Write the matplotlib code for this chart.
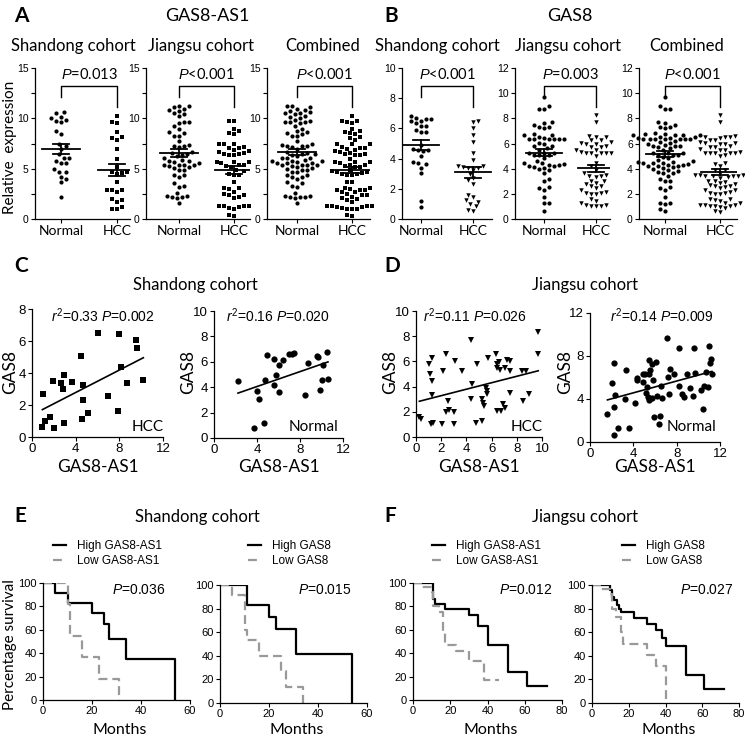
import numpy as np
import matplotlib
matplotlib.use('Agg')
import matplotlib.pyplot as plt

W, H = 745, 736
plt.rcParams['mathtext.fontset'] = 'custom'
plt.rcParams['mathtext.it'] = 'Liberation Sans:italic'
plt.rcParams['mathtext.rm'] = 'Liberation Sans'
plt.rcParams['mathtext.bf'] = 'Liberation Sans:bold'
CAL = 'Lato'
ARI = 'Liberation Sans'

# ---------------- data ----------------
# Shandong cohort, HCC tissue (GAS8-AS1 / GAS8 pairs)
shandong_hcc_as1 = [0.95, 1.04, 1.19, 1.65, 1.89, 2.0, 2.66, 2.84, 2.93, 2.9, 3.7, 4.46, 4.58,
                    4.64, 4.70, 5.16, 6.0, 7.0, 7.88, 8.0, 8.15, 8.67, 9.53, 9.59, 10.2]
shandong_hcc_gas8 = [0.6, 2.69, 0.98, 1.25, 3.48, 0.54, 3.38, 2.98, 3.88, 0.85, 3.46, 5.08, 1.15,
                     3.27, 2.33, 1.48, 6.48, 2.58, 1.6, 6.42, 4.35, 3.4, 6.04, 5.54, 3.54]
# Shandong cohort, normal tissue
shandong_normal_as1 = [2.23, 4.0, 4.22, 3.69, 4.62, 4.71, 4.93, 5.61, 5.58, 5.8, 6.05, 6.05, 6.42,
                       6.98, 7.22, 7.44, 8.47, 8.78, 9.61, 9.7, 9.83, 10.0, 10.14, 10.5, 10.6]
shandong_normal_gas8 = [4.49, 3.70, 3.04, 0.79, 1.18, 4.54, 6.51, 6.19, 4.20, 4.93, 5.77, 3.65, 6.14,
                        6.64, 6.64, 6.72, 3.41, 5.9, 6.46, 6.38, 3.78, 4.54, 5.75, 6.8, 4.65]
# Jiangsu cohort, HCC tissue
jiangsu_hcc_as1 = [0.27, 0.4, 1.03, 1.14, 1.3, 1.3, 1.25, 1.33, 1.2, 2.07, 2.18, 2.36, 2.36, 2.52,
                   2.65, 3.05, 3.1, 3.0, 3.63, 4.38, 4.48, 4.4, 4.77, 4.85, 5.2, 5.33, 5.38, 5.25,
                   5.57, 5.68, 5.62, 5.62, 6.31, 6.39, 6.45, 6.55, 6.66, 6.42, 6.74, 6.87, 7.06,
                   7.08, 7.19, 7.43, 7.45, 7.48, 8.4, 8.51, 8.75, 8.97, 9.7, 9.7]
jiangsu_hcc_gas8 = [1.58, 1.45, 5.76, 5.0, 6.29, 4.42, 3.34, 1.1, 1.05, 1.03, 5.24, 6.55, 2.0, 2.87,
                    2.16, 2.0, 6.03, 1.05, 5.26, 7.68, 4.24, 3.05, 1.1, 5.76, 3.03, 2.66, 2.45, 1.24,
                    3.92, 6.24, 3.68, 3.42, 6.55, 5.45, 5.79, 5.95, 5.29, 2.03, 2.08, 2.6, 2.34,
                    5.5, 6.1, 5.24, 6.0, 3.5, 5.26, 2.82, 5.26, 3.42, 8.3, 6.6]
# Jiangsu cohort, normal tissue
jiangsu_normal_as1 = [1.61, 2.07, 2.23, 2.23, 2.26, 2.29, 2.6, 3.22, 3.31, 3.59, 4.18, 4.33, 4.36,
                      4.86, 4.89, 5.1, 5.23, 5.17, 5.32, 5.41, 5.41, 5.41, 5.54, 5.69, 5.75, 5.78,
                      5.88, 6.06, 6.22, 6.4, 6.43, 6.53, 6.65, 7.11, 7.21, 7.36, 7.3, 7.76, 8.26,
                      8.26, 8.51, 8.66, 8.97, 9.22, 9.5, 9.62, 9.65, 10.2, 10.42, 10.55, 10.7,
                      10.85, 10.95, 11.1, 11.2, 11.25]
jiangsu_normal_gas8 = [2.56, 5.52, 7.33, 3.21, 0.62, 4.36, 1.31, 3.99, 6.67, 1.31, 3.65, 5.99, 5.77,
                       6.33, 5.61, 6.33, 5.08, 4.58, 4.21, 6.33, 7.64, 3.9, 6.70, 7.23, 4.11, 5.77,
                       2.28, 7.45, 4.30, 1.71, 2.46, 5.24, 4.05, 9.66, 6.02, 6.76, 4.43, 6.33, 8.73,
                       5.21, 4.43, 4.21, 6.33, 5.05, 4.30, 8.73, 6.45, 4.83, 3.05, 5.21, 6.55, 5.08,
                       8.95, 7.33, 7.7, 6.33]

groups = ['Normal', 'HCC']
dot_p_as1 = ['$P$=0.013', '$P$<0.001', '$P$<0.001']
dot_p_gas8 = ['$P$<0.001', '$P$=0.003', '$P$<0.001']
corr_text = [r'$r^{\mathrm{2}}$=0.33 $P$=0.002', r'$r^{\mathrm{2}}$=0.16 $P$=0.020',
             r'$r^{\mathrm{2}}$=0.11 $P$=0.026', r'$r^{\mathrm{2}}$=0.14 $P$=0.009']

# Kaplan-Meier curves (months, % survival)
e_high_as1_t = [0, 5, 10, 20, 25, 27, 34, 54]
e_high_as1_s = [100, 91.7, 83.3, 74, 65, 52, 35, 0]
e_low_as1_t = [0, 10, 11, 16, 23, 31]
e_low_as1_s = [100, 82, 55, 37, 18, 0]
e_high_gas8_t = [0, 11, 20, 23, 31, 54]
e_high_gas8_s = [100, 83.3, 72.7, 62.5, 41.7, 0]
e_low_gas8_t = [0, 5, 10, 11, 16, 25, 27, 34]
e_low_gas8_s = [100, 91.7, 61.5, 53.8, 40, 26.9, 13.5, 0]
f_high_as1_t = [0, 10.5, 11, 12, 17, 30, 35, 40, 51, 61, 72]
f_high_as1_s = [100, 93, 86, 82, 78, 73, 63, 47, 24, 12, 12]
f_low_as1_t = [0, 5, 10, 11, 14, 16, 17, 23, 30, 38, 46]
f_low_as1_s = [100, 97, 92, 80, 75, 58, 47, 42, 33, 17, 17]
f_high_gas8_t = [0, 10, 11, 12, 13.5, 14.5, 16, 23, 30, 35, 38, 40, 51, 61, 72]
f_high_gas8_s = [100, 96, 90, 87, 83, 80, 77, 72, 67, 61.5, 55, 48.6, 24, 12, 12]
f_low_gas8_t = [0, 5, 10, 11, 13, 16, 17, 30, 35, 40]
f_low_gas8_s = [100, 97, 92, 80, 73, 60, 50, 41, 31, 0]
surv_p = ['$P$=0.036', '$P$=0.015', '$P$=0.012', '$P$=0.027']

# ---------------- figure ----------------
fig = plt.figure(figsize=(W / 100, H / 100), dpi=100)


def add_ax(l, t, r, b):
    ax = fig.add_axes([l / W, 1 - b / H, (r - l) / W, (b - t) / H])
    for s in ('top', 'right'):
        ax.spines[s].set_visible(False)
    for s in ('left', 'bottom'):
        ax.spines[s].set_linewidth(0.9)
    ax.tick_params(direction='out', length=3, width=0.8, pad=1.5)
    return ax


def ftext(x, y, s, **kw):
    fig.text(x / W, 1 - y / H, s, **kw)


def swarm(ypix, d):
    xs = np.zeros(len(ypix))
    placed = []
    for n, i in enumerate(np.argsort(ypix)):
        y = ypix[i]
        k = 0
        while True:
            cands = [0.0] if k == 0 else [k * d * 0.5, -k * d * 0.5]
            if n % 2:
                cands = cands[::-1]
            hit = None
            for c in cands:
                if all((c - px) ** 2 + (y - py) ** 2 >= d * d for px, py in placed):
                    hit = c
                    break
            if hit is not None:
                break
            k += 1
        xs[i] = hit
        placed.append((hit, y))
    return xs


def dot_plot(spec, normal, hcc, ymax, yticks, minor, hmk, ptxt):
    l, xn, xh, r = spec
    t, b = 68, 219
    ppu = xh - xn
    ax = add_ax(l, t, r, b)
    ax.set_xlim(-(xn - l) / ppu, 1 + (r - xh) / ppu)
    ax.set_ylim(0, ymax)
    ypx = (b - t) / ymax
    for i, (vals, mk, ms) in enumerate([(normal, 'o', 3.0), (hcc, hmk, 3.2 if hmk == 'v' else 2.8)]):
        vals = np.asarray(vals, float)
        off = swarm(vals * ypx, 5.0)
        ax.plot(i + off / ppu, vals, mk, ls='none', color='black', ms=ms, mew=0, clip_on=False)
        m = vals.mean()
        se = vals.std(ddof=1) / np.sqrt(len(vals))
        ax.plot([i - 0.34, i + 0.34], [m, m], color='k', lw=1.3)
        for v in (m - se, m + se):
            ax.plot([i - 0.15, i + 0.15], [v, v], color='k', lw=1.3)
        ax.plot([i, i], [m - se, m + se], color='k', lw=1.3)
    ax.plot([0, 0, 1, 1], [0.81 * ymax, 0.88 * ymax, 0.88 * ymax, 0.74 * ymax], color='k', lw=1.0)
    ax.text(0.5, 0.955 * ymax, ptxt, ha='center', va='center', fontsize=10.5, family=CAL)
    ax.set_xticks([0, 1])
    ax.set_xticklabels(groups, fontsize=10, family=CAL)
    ax.set_yticks(yticks)
    ax.set_yticklabels([str(v) for v in yticks], fontsize=7.5, family=ARI)
    if minor:
        ax.set_yticks(minor, minor=True)
        ax.tick_params(axis='y', which='minor', length=3, width=0.8)
    return ax


shandong_combined_normal = shandong_normal_as1 + jiangsu_normal_as1
combined_hcc = shandong_hcc_as1 + jiangsu_hcc_as1
combined_normal_g = shandong_normal_gas8 + jiangsu_normal_gas8
combined_hcc_g = shandong_hcc_gas8 + jiangsu_hcc_gas8

a_specs = [(35, 61, 117, 130), (146, 179, 234, 250), (267, 297, 352, 370)]
b_specs = [(402, 421, 473, 492), (515, 544, 596, 610), (639, 665, 720, 737)]
a_data = [(shandong_normal_as1, shandong_hcc_as1), (jiangsu_normal_as1, jiangsu_hcc_as1),
          (shandong_combined_normal, combined_hcc)]
b_data = [(shandong_normal_gas8, shandong_hcc_gas8), (jiangsu_normal_gas8, jiangsu_hcc_gas8),
          (combined_normal_g, combined_hcc_g)]
for k in range(3):
    dot_plot(a_specs[k], *a_data[k], 15, [0, 5, 10, 15], [2.5, 7.5, 12.5], 's', dot_p_as1[k])
dot_plot(b_specs[0], *b_data[0], 10, [0, 2, 4, 6, 8, 10], None, 'v', dot_p_gas8[0])
dot_plot(b_specs[1], *b_data[1], 12, [0, 2, 4, 6, 8, 10, 12], None, 'v', dot_p_gas8[1])
dot_plot(b_specs[2], *b_data[2], 12, [0, 2, 4, 6, 8, 10, 12], None, 'v', dot_p_gas8[2])

# titles / labels row A-B
ftext(14, 16, 'A', fontsize=15, weight='bold', family=CAL, va='center', ha='left')
ftext(384, 16, 'B', fontsize=15, weight='bold', family=CAL, va='center', ha='left')
ftext(207, 16, 'GAS8-AS1', fontsize=13, family=CAL, ha='center', va='center')
ftext(570, 16, 'GAS8', fontsize=13, family=CAL, ha='center', va='center')
for x, s in [(73, 'Shandong cohort'), (201, 'Jiangsu cohort'), (323, 'Combined'),
             (437, 'Shandong cohort'), (568, 'Jiangsu cohort'), (687, 'Combined')]:
    ftext(x, 46, s, fontsize=12, family=CAL, ha='center', va='center')
ftext(10, 147, 'Relative  expression', fontsize=11, family=CAL, ha='center', va='center', rotation=90)


# ---------------- C / D scatter ----------------
def scatter_panel(box, x, y, mk, ms, xlim, xticks, ylim, yticks, txt, lab, lab_xy, ylab_x, txt_x):
    ax = add_ax(*box)
    x = np.asarray(x, float)
    y = np.asarray(y, float)
    ax.plot(x, y, mk, ls='none', color='k', ms=ms, mew=0, clip_on=False)
    k, c = np.polyfit(x, y, 1)
    xx = np.array([x.min(), x.max()])
    ax.plot(xx, k * xx + c, color='k', lw=1.2)
    ax.set_xlim(*xlim)
    ax.set_ylim(*ylim)
    ax.set_xticks(xticks)
    ax.set_xticklabels([str(v) for v in xticks], fontsize=9.5, family=ARI)
    ax.set_yticks(yticks)
    ax.set_yticklabels([str(v) for v in yticks], fontsize=9.5, family=ARI)
    ftext(txt_x, 316, txt, fontsize=10, family=ARI, ha='center', va='center')
    ftext(lab_xy[0], lab_xy[1], lab, fontsize=11, family=CAL, ha='center', va='center')
    ftext(ylab_x, 372, 'GAS8', fontsize=12.5, family=CAL, ha='center', va='center', rotation=90)
    ftext((box[0] + box[2]) / 2, 467, 'GAS8-AS1', fontsize=12.5, family=CAL, ha='center', va='center')
    return ax


scatter_panel((32, 309, 163, 437), shandong_hcc_as1, shandong_hcc_gas8, 's', 4.2, (0, 12), [0, 4, 8, 12],
              (0, 8), [0, 2, 4, 6, 8], corr_text[0], 'HCC', (148, 427), 10, 103)
scatter_panel((214, 311, 343, 438), shandong_normal_as1, shandong_normal_gas8, 'o', 4.5, (0, 12),
              [0, 4, 8, 12], (0, 10), [0, 2, 4, 6, 8, 10], corr_text[1], 'Normal', (313, 427), 188, 278)
scatter_panel((416, 311, 542, 437), jiangsu_hcc_as1, jiangsu_hcc_gas8, 'v', 5.0, (0, 10),
              [0, 2, 4, 6, 8, 10], (0, 10), [0, 2, 4, 6, 8, 10], corr_text[2], 'HCC', (527, 427), 390, 475)
scatter_panel((590, 313, 720, 442), jiangsu_normal_as1, jiangsu_normal_gas8, 'o', 4.5, (0, 12),
              [0, 4, 8, 12], (0, 12), [0, 4, 8, 12], corr_text[3], 'Normal', (692, 427), 565, 662)

ftext(14, 266, 'C', fontsize=15, weight='bold', family=CAL, va='center', ha='left')
ftext(384, 266, 'D', fontsize=15, weight='bold', family=CAL, va='center', ha='left')
ftext(195, 285, 'Shandong cohort', fontsize=12, family=CAL, ha='center', va='center')
ftext(585, 285, 'Jiangsu cohort', fontsize=12, family=CAL, ha='center', va='center')


# ---------------- E / F survival ----------------
def surv_panel(box, xmax, xticks, hi, lo, labels, ptxt, p_x, leg_x):
    ax = add_ax(*box)
    l1, = ax.step(hi[0], hi[1], where='post', color='k', lw=1.6)
    l2, = ax.step(lo[0], lo[1], where='post', color='#999999', lw=1.6, dashes=(4, 2.2))
    ax.set_xlim(0, xmax)
    ax.set_ylim(0, 100)
    ax.set_xticks(xticks)
    ax.set_xticklabels([str(v) for v in xticks], fontsize=8, family=ARI)
    ax.set_yticks([0, 20, 40, 60, 80, 100])
    ax.set_yticklabels(['0', '20', '40', '60', '80', '100'], fontsize=8, family=ARI)
    ax.tick_params(axis='x', pad=1.0)
    ftext(p_x, 590, ptxt, fontsize=10, family=ARI, ha='center', va='center')
    ftext((box[0] + box[2]) / 2 + 3, 734, 'Months', fontsize=11.5, family=CAL, ha='center',
          va='baseline')
    fig.legend([l1, l2], labels, loc='center left', bbox_to_anchor=(leg_x / W, 1 - 553.5 / H),
               frameon=False, handlelength=1.1, handletextpad=0.9, labelspacing=0.25,
               borderpad=0, borderaxespad=0, prop={'family': ARI, 'size': 8.5})
    return ax


surv_panel((43, 583, 190, 700), 60, [0, 20, 40, 60], (e_high_as1_t, e_high_as1_s),
           (e_low_as1_t, e_low_as1_s), ['High GAS8-AS1', 'Low GAS8-AS1'], surv_p[0], 139, 53)
surv_panel((220, 585, 367, 703), 60, [0, 20, 40, 60], (e_high_gas8_t, e_high_gas8_s),
           (e_low_gas8_t, e_low_gas8_s), ['High GAS8', 'Low GAS8'], surv_p[1], 325, 248)
surv_panel((413, 583, 562, 700), 80, [0, 20, 40, 60, 80], (f_high_as1_t, f_high_as1_s),
           (f_low_as1_t, f_low_as1_s), ['High GAS8-AS1', 'Low GAS8-AS1'], surv_p[2], 526, 432)
surv_panel((592, 585, 739, 703), 80, [0, 20, 40, 60, 80], (f_high_gas8_t, f_high_gas8_s),
           (f_low_gas8_t, f_low_gas8_s), ['High GAS8', 'Low GAS8'], surv_p[3], 707, 622)

ftext(14, 516, 'E', fontsize=15, weight='bold', family=CAL, va='center', ha='left')
ftext(384, 516, 'F', fontsize=15, weight='bold', family=CAL, va='center', ha='left')
ftext(197, 517, 'Shandong cohort', fontsize=12, family=CAL, ha='center', va='center')
ftext(585, 517, 'Jiangsu cohort', fontsize=12, family=CAL, ha='center', va='center')
ftext(10, 645, 'Percentage survival', fontsize=11, family=CAL, ha='center', va='center', rotation=90)

fig.savefig('out.png', dpi=100)
